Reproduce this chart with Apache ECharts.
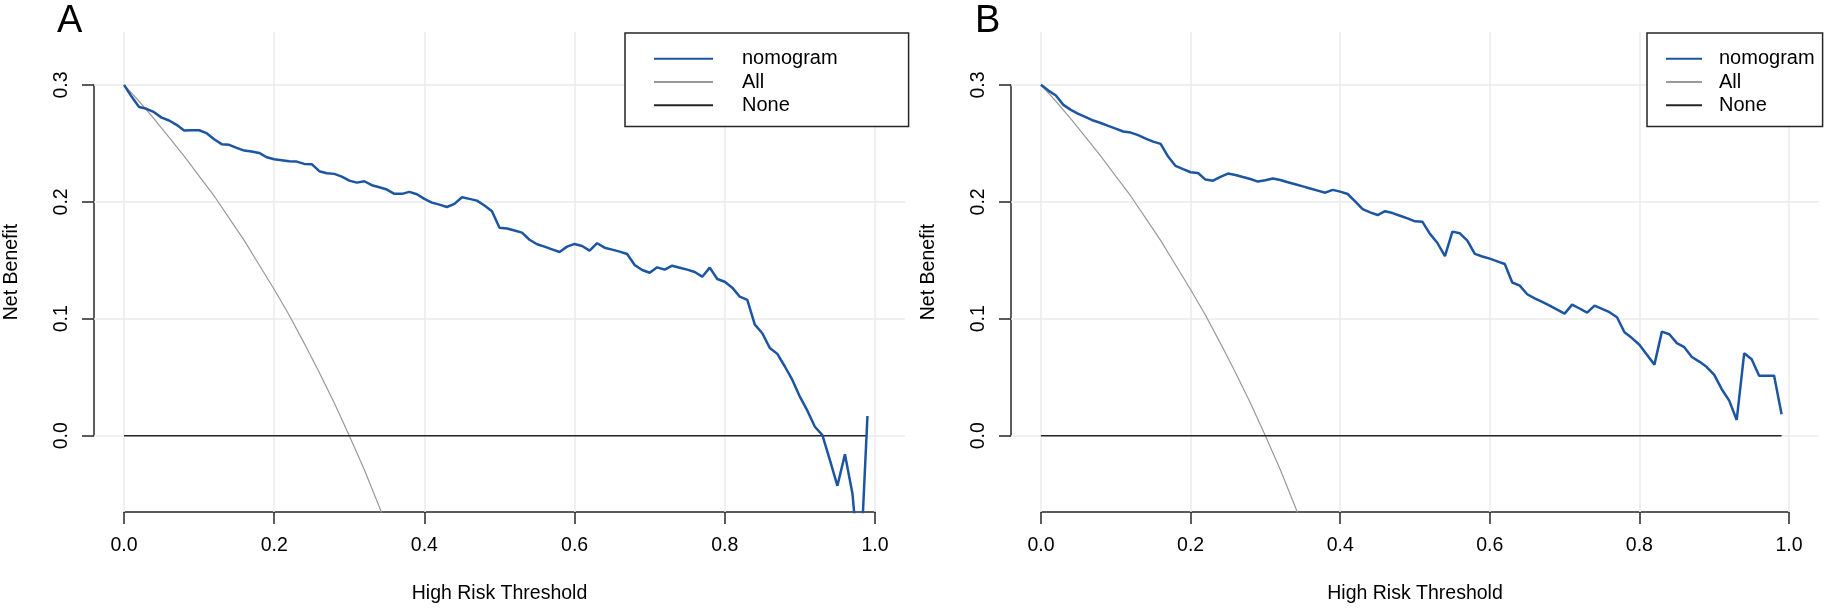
<!DOCTYPE html>
<html>
<head>
<meta charset="utf-8">
<title>Decision curves</title>
<script src="https://cdn.jsdelivr.net/npm/echarts@6/dist/echarts.min.js"></script>
<style>
  html, body { margin: 0; padding: 0; background: #fff; }
  #chart { width: 1826px; height: 610px; }
</style>
</head>
<body>
<div id="chart"></div>
<script>
// thresholds of the model curves
const thresholds = [
  0.00, 0.01, 0.02, 0.03, 0.04, 0.05, 0.06, 0.07, 0.08, 0.09,
  0.10, 0.11, 0.12, 0.13, 0.14, 0.15, 0.16, 0.17, 0.18, 0.19,
  0.20, 0.21, 0.22, 0.23, 0.24, 0.25, 0.26, 0.27, 0.28, 0.29,
  0.30, 0.31, 0.32, 0.33, 0.34, 0.35, 0.36, 0.37, 0.38, 0.39,
  0.40, 0.41, 0.42, 0.43, 0.44, 0.45, 0.46, 0.47, 0.48, 0.49,
  0.50, 0.51, 0.52, 0.53, 0.54, 0.55, 0.56, 0.57, 0.58, 0.59,
  0.60, 0.61, 0.62, 0.63, 0.64, 0.65, 0.66, 0.67, 0.68, 0.69,
  0.70, 0.71, 0.72, 0.73, 0.74, 0.75, 0.76, 0.77, 0.78, 0.79,
  0.80, 0.81, 0.82, 0.83, 0.84, 0.85, 0.86, 0.87, 0.88, 0.89,
  0.90, 0.91, 0.92, 0.93, 0.94, 0.95, 0.96, 0.97, 0.98, 0.99
];

const nomogramA = [
  0.300, 0.290, 0.281, 0.2795, 0.2766, 0.272, 0.2695, 0.2658, 0.261, 0.2612,
  0.2612, 0.2587, 0.2535, 0.2493, 0.2487, 0.2461, 0.2438, 0.2430, 0.2418, 0.2381,
  0.2364, 0.2356, 0.2347, 0.2344, 0.2324, 0.2322, 0.2262, 0.2245, 0.2239, 0.2216,
  0.2181, 0.2164, 0.2176, 0.2142, 0.2125, 0.2105, 0.2068, 0.2068, 0.2085, 0.2065,
  0.2025, 0.1993, 0.1976, 0.1956, 0.1982, 0.2039, 0.2025, 0.2010, 0.1968, 0.1920,
  0.1779, 0.1772, 0.1755, 0.1737, 0.1676, 0.1637, 0.1617, 0.1594, 0.1571, 0.1617,
  0.1640, 0.1622, 0.1583, 0.1646, 0.1608, 0.1591, 0.1574, 0.1554, 0.1460, 0.1417,
  0.1394, 0.1440, 0.1420, 0.1454, 0.1437, 0.1420, 0.1400, 0.1360, 0.1437, 0.1340,
  0.1317, 0.1266, 0.1189, 0.1161, 0.0950, 0.0876, 0.0750, 0.0700, 0.0592, 0.0477,
  0.0334, 0.0214, 0.0077, 0.0006, -0.0208, -0.0428, -0.0159, -0.0493, -0.1200, 0.0169
];

const nomogramB = [
  0.300, 0.2951, 0.2909, 0.2829, 0.2786, 0.2752, 0.2724, 0.2695, 0.2674, 0.2649,
  0.2626, 0.2601, 0.2592, 0.2570, 0.2541, 0.2515, 0.2495, 0.2387, 0.2307, 0.2279,
  0.2253, 0.2246, 0.2190, 0.2181, 0.2213, 0.2242, 0.2230, 0.2212, 0.2195, 0.2173,
  0.2185, 0.2200, 0.2186, 0.2168, 0.2150, 0.2132, 0.2114, 0.2096, 0.2078, 0.2102,
  0.2087, 0.2067, 0.2004, 0.1937, 0.1910, 0.1887, 0.1920, 0.1904, 0.1881, 0.1858,
  0.1833, 0.1829, 0.1726, 0.1648, 0.1535, 0.1745, 0.1731, 0.1668, 0.1555, 0.1533,
  0.1514, 0.1491, 0.1468, 0.1310, 0.1283, 0.1210, 0.1175, 0.1144, 0.1113, 0.1079,
  0.1044, 0.1121, 0.1088, 0.1052, 0.1112, 0.1085, 0.1056, 0.1013, 0.0885, 0.0835,
  0.0778, 0.0692, 0.0608, 0.0890, 0.0868, 0.0792, 0.0757, 0.0673, 0.0634, 0.0587,
  0.0520, 0.0398, 0.0300, 0.0135, 0.0705, 0.0654, 0.0513, 0.0513, 0.0513, 0.0183
];

// treat-all curve (same in both panels)
const allThresholds = [0.00, 0.02, 0.04, 0.06, 0.08, 0.10, 0.12, 0.14, 0.16, 0.18,
  0.20, 0.22, 0.24, 0.26, 0.28, 0.30, 0.32, 0.34, 0.36];
const allValues = [0.300, 0.286, 0.271, 0.255, 0.239, 0.222, 0.205, 0.186, 0.167, 0.146,
  0.125, 0.103, 0.079, 0.054, 0.028, 0.000, -0.029, -0.061, -0.094];

// treat-none line
const noneThresholds = [0.00, 0.99];
const noneValues = [0, 0];

const xTicks = [0, 0.2, 0.4, 0.6, 0.8, 1.0];
const yTicks = [0, 0.1, 0.2, 0.3];
const seriesNames = ['nomogram', 'All', 'None'];
const panelLabels = ['A', 'B'];

const FONT = '"Liberation Sans", Arial, Helvetica, sans-serif';
const BLUE = '#1c55a2';
const GREY = '#999999';
const AXIS = '#262626';

const pairs = (xs, ys) => xs.map((x, i) => [x, ys[i]]);

// plot region of each panel (R style: 4% padding around data range)
const panels = [
  {plotLeft: 94, plotRight: 905, x0: 124, x1: 875, nomogram: nomogramA,
   legend: {left: 625, padding: [15.7, 71, 11.3, 28], itemWidth: 59, textGap: 24}},
  {plotLeft: 1011, plotRight: 1819, x0: 1041, x1: 1789, nomogram: nomogramB,
   legend: {left: 1647, padding: [15.7, 8, 11.3, 18], itemWidth: 36, textGap: 12}}
];
const plotTop = 32, plotBottom = 512, y03 = 85, y00 = 435.7;
const W = 1826, H = 610;

const grid = [], xAxis = [], yAxis = [], series = [], legend = [], title = [];

panels.forEach((p, i) => {
  const main = 2 * i, over = 2 * i + 1;
  grid.push({left: p.plotLeft, right: W - p.plotRight, top: plotTop, bottom: H - plotBottom});
  grid.push({left: p.x0, right: W - p.x1, top: y03, bottom: H - y00});

  xAxis.push({
    type: 'value', gridIndex: main, min: -0.04, max: 1.04,
    axisLine: {show: false}, axisTick: {show: false}, axisLabel: {show: false}, splitLine: {show: false},
    name: 'High Risk Threshold', nameLocation: 'middle', nameGap: 72,
    nameTextStyle: {fontFamily: FONT, fontSize: 19.5, color: '#000'}
  });
  xAxis.push({
    type: 'value', gridIndex: over, min: 0, max: 1, interval: 0.2, offset: plotBottom - y00,
    axisLine: {show: true, onZero: false, lineStyle: {color: AXIS, width: 1.5}},
    axisTick: {show: true, length: 12, lineStyle: {color: AXIS, width: 1.5}},
    axisLabel: {fontFamily: FONT, fontSize: 19.5, color: '#000', margin: 24,
      formatter: v => v.toFixed(1)},
    splitLine: {show: false}
  });
  yAxis.push({
    type: 'value', gridIndex: main, min: -0.0652, max: 0.3452,
    axisLine: {show: false}, axisTick: {show: false}, axisLabel: {show: false}, splitLine: {show: false},
    name: 'Net Benefit', nameLocation: 'middle', nameGap: 72, nameRotate: 90,
    nameTextStyle: {fontFamily: FONT, fontSize: 19.5, color: '#000'}
  });
  yAxis.push({
    type: 'value', gridIndex: over, min: 0, max: 0.3, interval: 0.1, offset: p.x0 - p.plotLeft,
    axisLine: {show: true, onZero: false, lineStyle: {color: AXIS, width: 1.5}},
    axisTick: {show: true, length: 12, lineStyle: {color: AXIS, width: 1.5}},
    axisLabel: {fontFamily: FONT, fontSize: 19.5, color: '#000', margin: 22, rotate: 90,
      formatter: v => v.toFixed(1)},
    splitLine: {show: false}
  });

  // light grid lines at the tick positions, spanning the whole plot region
  series.push({
    type: 'line', name: 'grid' + i, xAxisIndex: main, yAxisIndex: main, data: [], z: 1,
    markLine: {
      silent: true, symbol: ['none', 'none'], animation: false, z: 1,
      label: {show: false},
      lineStyle: {color: '#ebebeb', width: 1.5, type: 'solid'},
      emphasis: {disabled: true},
      data: xTicks.map(v => ({xAxis: v})).concat(yTicks.map(v => ({yAxis: v})))
    }
  });
  series.push({
    type: 'line', name: 'All', xAxisIndex: main, yAxisIndex: main, z: 3,
    data: pairs(allThresholds, allValues), showSymbol: false, symbol: 'none',
    itemStyle: {color: GREY}, lineStyle: {color: GREY, width: 1.2}
  });
  series.push({
    type: 'line', name: 'None', xAxisIndex: main, yAxisIndex: main, z: 3,
    data: pairs(noneThresholds, noneValues), showSymbol: false, symbol: 'none',
    itemStyle: {color: AXIS}, lineStyle: {color: AXIS, width: 1.5}
  });
  series.push({
    type: 'line', name: 'nomogram', xAxisIndex: main, yAxisIndex: main, z: 4,
    data: pairs(thresholds, p.nomogram), showSymbol: false, symbol: 'none',
    itemStyle: {color: BLUE}, lineStyle: {color: BLUE, width: 2.5}
  });

  legend.push({
    data: seriesNames, orient: 'vertical', align: 'left', selectedMode: false,
    left: p.legend.left, top: 33, padding: p.legend.padding, z: 6,
    itemWidth: p.legend.itemWidth, itemHeight: 14, itemGap: 3.3,
    itemStyle: {opacity: 0},
    borderColor: AXIS, borderWidth: 1.5, backgroundColor: '#fff',
    textStyle: {fontFamily: FONT, fontSize: 20, color: '#000', lineHeight: 20,
      padding: [0, 0, 0, p.legend.textGap]}
  });

  title.push({
    text: panelLabels[i], left: i === 0 ? 57 : 975, top: 3, padding: 0,
    textStyle: {fontFamily: FONT, fontSize: 38, fontWeight: 'normal', color: '#000'}
  });
});

const chart = echarts.init(document.getElementById('chart'));
chart.setOption({
  animation: false,
  backgroundColor: '#fff',
  title, grid, xAxis, yAxis, legend, series
});
</script>
</body>
</html>
